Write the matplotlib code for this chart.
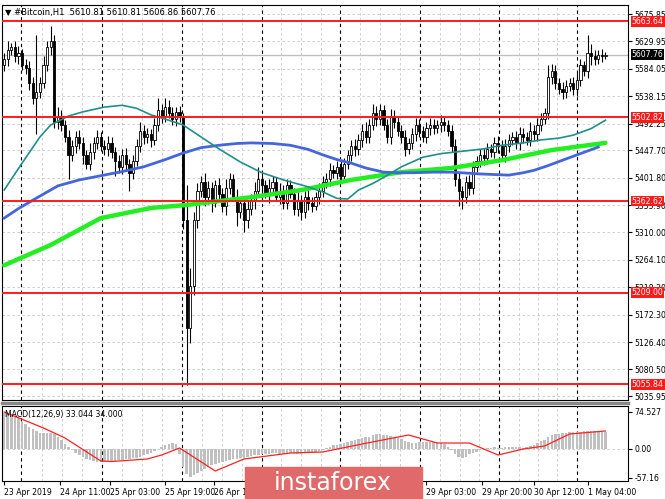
import matplotlib
matplotlib.use("Agg")
import matplotlib.pyplot as plt
import numpy as np

# ---- data ----
closes = [
    5600, 5615, 5620, 5605, 5610, 5590, 5585, 5560, 5535, 5545,
    5560, 5590, 5620, 5630, 5495, 5505, 5490, 5470, 5440, 5455,
    5470, 5460, 5440, 5425, 5445, 5460, 5470, 5455, 5450, 5460,
    5445, 5430, 5420, 5440, 5425, 5410, 5430, 5455, 5480, 5470,
    5475, 5465, 5490, 5515, 5505, 5520, 5510, 5500, 5512, 5505,
    5330, 5150, 5220, 5330, 5380, 5395, 5370, 5385, 5360, 5390,
    5375, 5355, 5385, 5400, 5370, 5345, 5360, 5330, 5350, 5365,
    5380, 5400, 5390, 5375, 5385, 5395, 5370, 5380, 5360, 5390,
    5375, 5350, 5365, 5345, 5370, 5360, 5355, 5370, 5380, 5395,
    5400, 5415, 5410, 5420, 5405, 5425, 5440, 5455, 5450, 5465,
    5480, 5470, 5490, 5510, 5500, 5515, 5490, 5470, 5505, 5495,
    5480, 5470, 5450, 5460, 5475, 5490, 5480, 5470, 5485, 5490,
    5485, 5490, 5495, 5490, 5480, 5455, 5400, 5380, 5370, 5395,
    5385, 5420, 5430, 5440, 5435, 5450, 5445, 5460, 5455, 5440,
    5455, 5465, 5470, 5460, 5475, 5470, 5465, 5480, 5475, 5490,
    5500, 5510, 5570, 5580, 5560, 5550, 5545, 5555, 5560, 5550,
    5565, 5590, 5580, 5610, 5605, 5600, 5608, 5605, 5608,
]
first_open = 5590
up_wick = [
    10, 15, 8, 10, 12, 8, 10, 12, 10, 95,
    10, 15, 10, 25, 10, 15, 10, 8, 12, 10,
    10, 12, 10, 8, 15, 10, 12, 8, 10, 12,
    10, 8, 10, 10, 12, 8, 10, 12, 15, 10,
    10, 8, 12, 20, 10, 15, 12, 10, 8, 10,
    5, 60, 30, 15, 12, 10, 15, 12, 10, 8,
    12, 10, 15, 10, 8, 12, 10, 8, 12, 10,
    15, 20, 10, 8, 15, 10, 8, 12, 10, 10,
    8, 10, 12, 8, 10, 12, 10, 8, 12, 10,
    10, 12, 8, 10, 12, 10, 8, 10, 12, 10,
    12, 15, 10, 15, 12, 10, 8, 10, 12, 10,
    8, 10, 12, 8, 10, 12, 10, 8, 10, 12,
    10, 8, 12, 10, 8, 10, 12, 10, 8, 10,
    12, 10, 8, 10, 12, 10, 8, 10, 12, 10,
    12, 10, 8, 10, 12, 10, 8, 15, 10, 12,
    10, 8, 20, 12, 10, 8, 12, 10, 8, 10,
    12, 10, 8, 30, 15, 10, 8, 10, 5,
]
dn_wick = [
    10, 12, 8, 10, 12, 8, 10, 12, 10, 60,
    10, 8, 10, 12, 10, 12, 10, 8, 40, 10,
    12, 10, 15, 8, 10, 12, 10, 8, 10, 12,
    10, 25, 10, 12, 10, 30, 10, 8, 10, 12,
    10, 12, 8, 10, 12, 10, 8, 10, 12, 10,
    15, 95, 25, 15, 12, 10, 15, 12, 15, 8,
    12, 10, 15, 10, 8, 25, 10, 20, 12, 10,
    15, 10, 10, 8, 15, 10, 8, 12, 10, 10,
    8, 10, 12, 15, 10, 12, 10, 8, 12, 10,
    10, 12, 8, 10, 12, 10, 8, 10, 12, 10,
    12, 10, 10, 8, 12, 10, 8, 10, 12, 10,
    8, 10, 12, 8, 10, 12, 10, 8, 10, 12,
    10, 8, 12, 10, 8, 10, 12, 25, 20, 10,
    12, 10, 8, 10, 12, 10, 8, 10, 12, 10,
    12, 10, 8, 10, 12, 10, 8, 10, 10, 12,
    10, 8, 10, 12, 10, 8, 12, 10, 8, 10,
    12, 10, 8, 12, 15, 10, 8, 10, 5,
]

# moving averages, (bar index, price) read at points
teal_x = [0, 5, 10, 13, 18, 22, 28, 33, 37, 41, 46, 50, 55, 60, 66, 72, 78, 84, 89, 93, 96, 99, 103, 106, 111, 117, 122, 128, 134, 139, 145, 150, 155, 159, 164, 168]
teal_y = [5381, 5426, 5470, 5490, 5505, 5512, 5520, 5523, 5518, 5507, 5498, 5490, 5470, 5450, 5428, 5410, 5398, 5388, 5378, 5367, 5366, 5381, 5392, 5402, 5420, 5436, 5442, 5446, 5450, 5456, 5460, 5465, 5468, 5473, 5484, 5498]
blue_x = [0, 4, 8, 15, 21, 27, 33, 39, 45, 50, 55, 60, 65, 69, 75, 80, 85, 89, 93, 97, 101, 106, 110, 114, 120, 125, 133, 141, 145, 148, 152, 156, 161, 166]
blue_y = [5334, 5350, 5364, 5388, 5398, 5405, 5412, 5420, 5432, 5443, 5452, 5456, 5459, 5460, 5459, 5456, 5449, 5440, 5432, 5426, 5418, 5411, 5410, 5410, 5411, 5411, 5408, 5406, 5410, 5414, 5422, 5431, 5442, 5453]
green_x = [0, 13, 27, 41, 51, 69, 83, 97, 111, 125, 139, 153, 168]
green_y = [5255, 5289, 5334, 5351, 5356, 5369, 5381, 5398, 5411, 5418, 5431, 5448, 5460]

levels = [5663.64, 5502.82, 5362.62, 5209.00, 5055.84]
price_ticks = [5675.85, 5629.95, 5584.05, 5538.15, 5492.25, 5447.70, 5401.80,
               5355.90, 5310.00, 5264.10, 5218.20, 5172.30, 5126.40, 5080.50, 5035.95]
last_price = 5607.76

macd_hist = [
    72, 70, 68, 66, 62, 55, 50, 45, 40, 36,
    33, 32, 32, 33, 30, 25, 18, 10, 4, -2,
    -8, -12, -16, -19, -22, -24, -25, -26, -26, -25,
    -24, -23, -22, -21, -20, -19, -18, -17, -15, -12,
    -10, -8, -4, 0, 4, 8, 10, 12, 10, -10,
    -35, -50, -55, -52, -48, -44, -40, -36, -32, -30,
    -28, -26, -24, -22, -20, -19, -18, -17, -16, -14,
    -12, -12, -10, -10, -9, -8, -8, -9, -10, -8,
    -8, -9, -10, -10, -8, -8, -6, -5, -3, -2,
    2, 5, 8, 9, 10, 12, 14, 16, 18, 20,
    22, 24, 25, 28, 30, 30, 29, 28, 27, 25,
    22, 20, 16, 14, 13, 13, 14, 15, 15, 14,
    14, 14, 13, 10, 5, -2, -10, -15, -17, -15,
    -10, -7, -5, -2, 0, 2, 3, 4, 2, 3,
    4, 5, 5, 4, 4, 3, 5, 6, 8, 12,
    16, 18, 24, 28, 30, 31, 32, 33, 34, 34,
    35, 35, 36, 37, 37, 36, 36, 35, 35,
]
signal_x = [0, 11, 17, 27, 30, 40, 44, 49, 59, 67, 80, 89, 100, 113, 121, 130, 138, 145, 151, 158, 168]
signal_y = [74, 42, 22, -24, -25, -20, -12, 2, -44, -20, -8, -6, 10, 28, 12, 12, -12, 0, 6, 30, 36]

date_labels = ["23 Apr 2019", "24 Apr 11:00", "25 Apr 03:00", "25 Apr 19:00", "26 Apr 11:00",
               "29 Apr 03:00", "29 Apr 20:00", "30 Apr 12:00", "1 May 04:00"]
date_pos = [0, 15.5, 29.5, 45, 58.5, 118, 133.5, 148, 163]

# ---- figure ----
W, H = 665, 499
fig = plt.figure(figsize=(W / 100, H / 100), dpi=100)
plt.rcParams["font.family"] = ["DejaVu Sans"]
FS = 5.6


def fx(px):
    return px / W


def fy(py):
    return 1 - py / H


ax = fig.add_axes([fx(2), fy(400), fx(626), (400 - 5) / H])
mx = fig.add_axes([fx(2), fy(481), fx(626), (481 - 406) / H])

n = len(closes)
idx = np.arange(n)
xmin, xmax = -0.6, 174.3
PMIN, PMAX = 5029.3, 5691
opens = [first_open] + closes[:-1]

for i in range(n):
    o, c = opens[i], closes[i]
    hi = max(o, c) + up_wick[i]
    lo = min(o, c) - dn_wick[i]
    ax.vlines(i, lo, hi, color="black", lw=0.8, zorder=3)
    h = max(abs(c - o), 1.5)
    ax.bar(i, h, bottom=min(o, c), width=0.62, color="white" if c >= o else "black",
           edgecolor="black", lw=0.6, zorder=4)

ax.plot(green_x, green_y, color="#22ee22", lw=3.2, zorder=5, solid_capstyle="round")
ax.plot(blue_x, blue_y, color="#4466dd", lw=2.0, zorder=5)
ax.plot(teal_x, teal_y, color="#1f8f8a", lw=1.2, zorder=5)

for lv in levels:
    ax.axhline(lv, color="#ff1a1a", lw=1.4, zorder=6)
ax.axhline(last_price, color="#c0c0c0", lw=1.0, zorder=2)

ax.set_xlim(xmin, xmax)
ax.set_ylim(PMIN, PMAX)
ax.yaxis.tick_right()
ax.set_yticks(price_ticks)
ax.set_yticklabels([f"{t:.2f}" for t in price_ticks], fontsize=FS)
ax.tick_params(axis="y", length=3, pad=1.5)
ax.set_xticks([])
for t in price_ticks:
    ax.axhline(t, color="#c8c8c8", lw=0.6, ls=(0, (3, 3)), zorder=1)

vdash = [4.8, 27.4, 49.7, 72, 93.9, 116.2, 138.3, 160]
for i, v in enumerate(vdash):
    ax.axvline(v, color="black", lw=0.8, ls=(0, (3, 3)), zorder=1)
    mx.axvline(v, color="black", lw=0.8, ls=(0, (3, 3)), zorder=1)
    if i < len(vdash) - 1:
        for k in range(1, 4):
            g = v + (vdash[i + 1] - v) * k / 4
            ax.axvline(g, color="#c8c8c8", lw=0.6, ls=(0, (3, 3)), zorder=1)
            mx.axvline(g, color="#c8c8c8", lw=0.6, ls=(0, (3, 3)), zorder=1)

# price tags at right
for lv, col in [(v, "#ff1a1a") for v in levels] + [(last_price, "black")]:
    ax.text(1.006, (lv - PMIN) / (PMAX - PMIN), f"{lv:.2f}", transform=ax.transAxes,
            fontsize=FS, color="white", va="center", ha="left",
            bbox=dict(boxstyle="square,pad=0.12", fc=col, ec="none"), zorder=10, clip_on=False)

ax.text(0.005, 0.992, "\u25bc #Bitcoin,H1  5610.81 5610.81 5606.86 5607.76", transform=ax.transAxes,
        fontsize=6, va="top", ha="left", zorder=10)

# MACD pane
mx.bar(idx, macd_hist, width=0.7, color="#c0c0c0", zorder=2)
mx.plot(signal_x, signal_y, color="#ff2020", lw=0.9, zorder=3)
mx.axhline(0, color="#c8c8c8", lw=0.6, ls=(0, (3, 3)), zorder=1)
mx.set_xlim(xmin, xmax)
mx.set_ylim(-64, 86)
mx.yaxis.tick_right()
mx.set_yticks([74.527, 0.0, -57.16])
mx.set_yticklabels(["74.527", "0.00", "-57.16"], fontsize=FS)
mx.tick_params(axis="y", length=3, pad=1.5)
mx.set_xticks(date_pos)
mx.set_xticklabels(date_labels, fontsize=FS, ha="left")
mx.tick_params(axis="x", length=3, pad=2)
mx.text(0.005, 0.95, "MACD(12,26,9) 33.044 34.000", transform=mx.transAxes,
        fontsize=FS, va="top", ha="left", zorder=10)

for a in (ax, mx):
    for s in a.spines.values():
        s.set_color("black")
        s.set_linewidth(0.8)
fig.add_artist(plt.Line2D([fx(2), fx(628)], [fy(403), fy(403)], color="#888888", lw=2.5))

# instaforex badge
fig.add_artist(plt.Rectangle((fx(245), 0), fx(177), (499 - 467) / H, color="#e06a6a", zorder=20))
fig.text(fx(333), (499 - 483) / H, "instaforex", color="white", fontsize=17,
         ha="center", va="center", zorder=21)

fig.savefig("out.png", dpi=100)
